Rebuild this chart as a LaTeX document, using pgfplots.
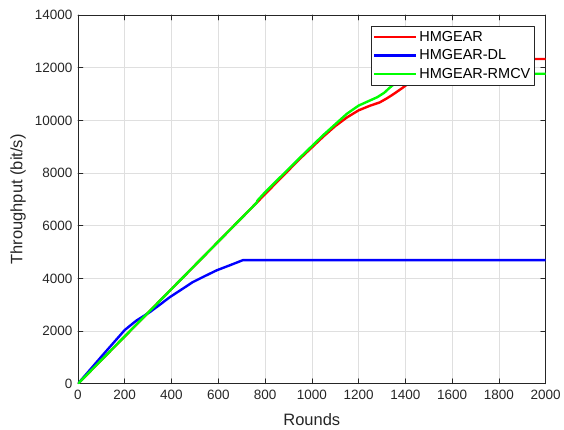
\documentclass[border=0pt]{standalone}
\usepackage{fontspec}
\setmainfont{Liberation Sans}
\usepackage{pgfplots}
\pgfplotsset{compat=1.18}
\definecolor{axgray}{RGB}{38,38,38}
\definecolor{gridgray}{RGB}{223,223,223}
\begin{document}
\begin{tikzpicture}
\begin{axis}[
  scale only axis,
  width=468bp, height=369bp,
  xmin=0, xmax=2000, ymin=0, ymax=14000,
  xtick={0,200,...,2000}, ytick={0,2000,...,14000},
  scaled ticks=false,
  /pgf/number format/assume math mode=true,
  /pgf/number format/set thousands separator={},
  tick label style={font=\fontsize{13.5bp}{15bp}\selectfont, text=axgray},
  xticklabel style={yshift=-3bp},
  yticklabel style={xshift=-2bp},
  label style={font=\fontsize{16.5bp}{18bp}\selectfont, text=axgray},
  xlabel={Rounds}, ylabel={Throughput (bit/s)},
  xlabel style={at={([yshift=-36bp]axis description cs:0.5,0)}, anchor=center},
  ylabel style={at={([xshift=-60bp]axis description cs:0,0.5)}, anchor=center},
  axis line style={axgray, line width=0.6bp},
  tick style={axgray, line width=0.6bp},
  tick align=inside, major tick length=5bp,
  xtick pos=both, ytick pos=both,
  grid=major, grid style={gridgray, line width=0.6bp},
  legend style={at={(1,1)}, anchor=north east, xshift=-11bp, yshift=-11bp,
    font=\fontsize{14.5bp}{16bp}\selectfont, draw=axgray, line width=0.6bp,
    inner xsep=2bp, inner ysep=3bp, row sep=3bp, cells={anchor=west}},
  legend image code/.code={\draw[#1] (0bp,0bp) -- (42bp,0bp);},
  line join=round, line cap=round,
]
\addplot[red, line width=2.4bp] coordinates {
(0,0) (765,6880) (800,7200) (900,8100) (950,8550) (1000,8970) (1050,9390) (1100,9780)
(1150,10110) (1200,10380) (1250,10560) (1290,10680) (1320,10830) (1350,11000) (1389,11240)
(1450,11650) (1500,12000) (1540,12230) (1570,12330) (2000,12330)};
\addlegendentry{HMGEAR}
\addplot[blue, line width=2.4bp] coordinates {
(0,0) (100,1030) (200,2040) (250,2400) (308,2724) (350,3000) (393,3290)
(450,3620) (491,3860) (550,4120) (594,4310) (650,4500) (705,4692) (2000,4692)};
\addlegendentry{HMGEAR-DL}
\addplot[green, line width=2.4bp] coordinates {
(0,0) (765,6880) (767,6950) (800,7270) (900,8150) (950,8590) (1000,9020) (1050,9450)
(1100,9850) (1150,10250) (1200,10560) (1240,10720) (1280,10880) (1310,11050) (1333,11240)
(1380,11580) (1410,11740) (1430,11770) (2000,11770)};
\addlegendentry{HMGEAR-RMCV}
\end{axis}
\path (current axis.south west) ++(-78bp,-42bp) coordinate (bl);
\path (current axis.north east) ++(18bp,15bp) coordinate (tr);
\useasboundingbox (bl) rectangle (tr);
\end{tikzpicture}
\end{document}
